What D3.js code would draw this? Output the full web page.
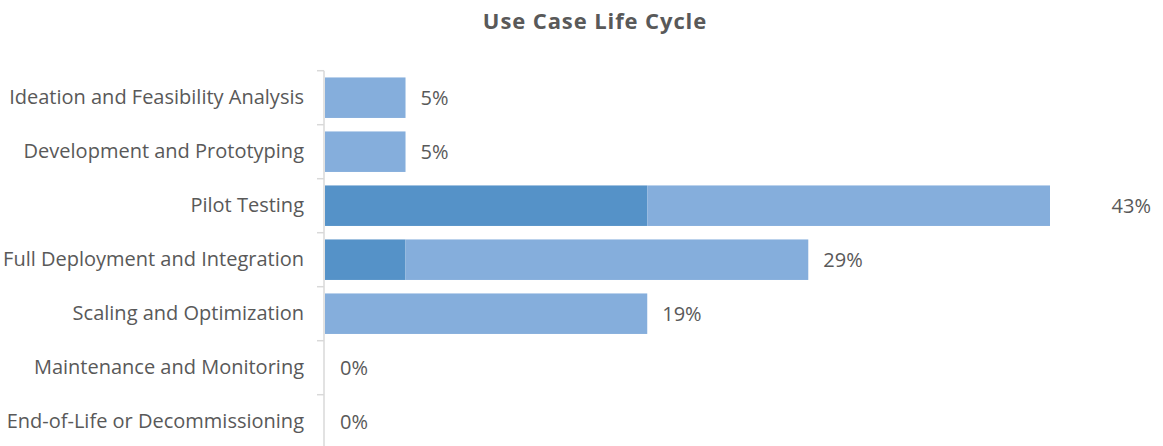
<!DOCTYPE html>
<html>
<head>
<meta charset="utf-8">
<script src="https://cdn.jsdelivr.net/npm/d3@7"></script>
<style>
  html, body { margin: 0; padding: 0; background: #fff; }
  svg { display: block; }
</style>
</head>
<body>
<svg id="chart" width="1163" height="446"></svg>
<script>
// Life-cycle stages (top to bottom)
const stages = [
  "Ideation and Feasibility Analysis",
  "Development and Prototyping",
  "Pilot Testing",
  "Full Deployment and Integration",
  "Scaling and Optimization",
  "Maintenance and Monitoring",
  "End-of-Life or Decommissioning"
];
// Share of use cases (%), two stacked series
const seriesA = [0, 0, 19.05, 4.76, 0, 0, 0];
const seriesB = [4.76, 4.76, 23.81, 23.81, 19.05, 0, 0];
// Total labels
const totalLabels = ["5%", "5%", "43%", "29%", "19%", "0%", "0%"];

const colors = ["#5592C8", "#85AEDC"];
const textColor = "#595959";
const font = "'Open Sans', sans-serif";

const svg = d3.select("#chart");

const x0 = 325, xMaxPx = 1050;
const totals = stages.map((_, i) => seriesA[i] + seriesB[i]);
const maxTotal = d3.max(totals);

const x = d3.scaleLinear().domain([0, maxTotal]).range([x0, xMaxPx]);
const y = d3.scaleBand().domain(stages).range([70.7, 70.7 + 54 * stages.length]).paddingInner(0.25).paddingOuter(0.125);

// Title
svg.append("text")
  .attr("x", 595).attr("y", 29)
  .attr("text-anchor", "middle")
  .attr("font-family", font)
  .attr("font-weight", "bold")
  .attr("font-size", 22)
  .attr("letter-spacing", 0.9)
  .attr("fill", textColor)
  .text("Use Case Life Cycle");

// Stacked bars
const rows = stages.map((s, i) => ({ stage: s, a: seriesA[i], b: seriesB[i] }));
const stack = d3.stack().keys(["a", "b"])(rows);

svg.append("g").selectAll("g")
  .data(stack)
  .join("g")
  .attr("fill", (d, i) => colors[i])
  .selectAll("rect")
  .data(d => d)
  .join("rect")
  .attr("x", d => x(d[0]))
  .attr("y", d => y(d.data.stage))
  .attr("width", d => x(d[1]) - x(d[0]))
  .attr("height", y.bandwidth());

// Category axis
const axis = d3.axisLeft(y).tickSize(0).tickPadding(20);
const ag = svg.append("g").attr("transform", `translate(${x0 - 1},0)`).call(axis);
ag.select(".domain").attr("stroke", "#d9d9d9").attr("stroke-width", 1.5);
ag.selectAll("text")
  .attr("font-family", font)
  .attr("font-size", 20)
  .attr("fill", textColor);

// Boundary ticks between categories
const step = y.step();
const bounds = d3.range(stages.length + 1).map(i => y.range()[0] + i * step);
ag.selectAll("line.bound")
  .data(bounds)
  .join("line")
  .attr("class", "bound")
  .attr("x1", -7).attr("x2", 0)
  .attr("y1", d => d).attr("y2", d => d)
  .attr("stroke", "#d9d9d9").attr("stroke-width", 1.5);
ag.select(".domain").attr("d", `M0,${bounds[0]}V${bounds[bounds.length - 1]}`);

// Total labels: after the bar end; the longest bar's label sits at the right edge
svg.append("g").selectAll("text")
  .data(stages)
  .join("text")
  .attr("x", (s, i) => totals[i] === maxTotal ? 1151 : x(totals[i]) + 15)
  .attr("text-anchor", (s, i) => totals[i] === maxTotal ? "end" : "start")
  .attr("y", s => y(s) + y.bandwidth() / 2)
  .attr("dy", "0.35em")
  .attr("font-family", font)
  .attr("font-size", 20)
  .attr("fill", textColor)
  .text((s, i) => totalLabels[i]);
</script>
</body>
</html>
